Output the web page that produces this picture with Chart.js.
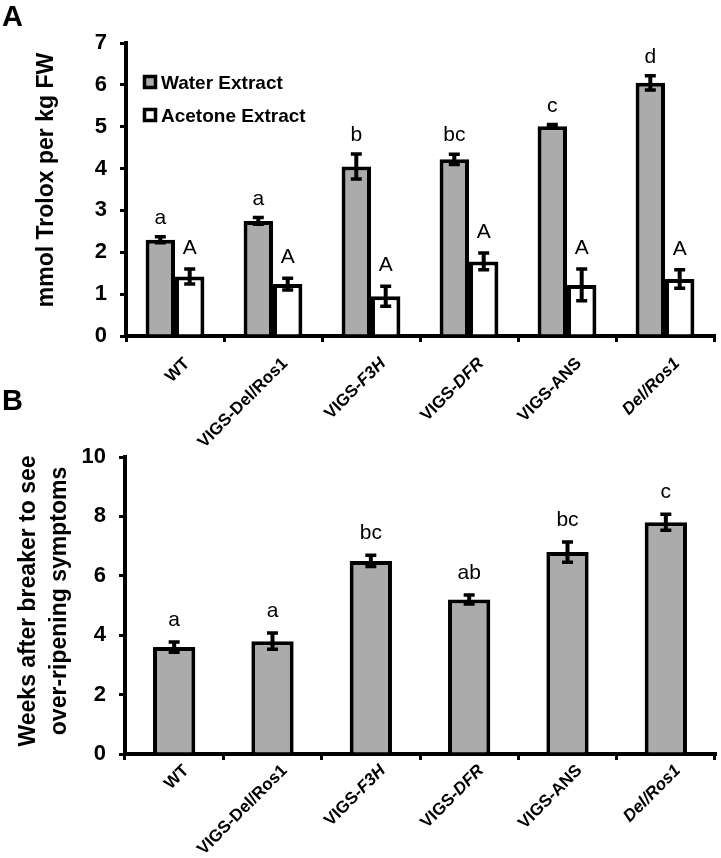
<!DOCTYPE html>
<html><head><meta charset="utf-8">
<script src="https://cdn.jsdelivr.net/npm/chart.js@4.4.0/dist/chart.umd.min.js"></script>
<style>
html,body{margin:0;padding:0;background:#fff;}
#wrap{position:relative;width:721px;height:858px;overflow:hidden;font-family:'Liberation Sans',Arial,sans-serif;background:#fff;}
.panel{position:absolute;left:2px;font-weight:bold;font-size:29px;line-height:29px;color:#000;}
canvas{position:absolute;left:0;}
#cA{top:0;}
#cB{top:420px;}
</style></head><body>
<div id="wrap">
<canvas id="cA" width="721" height="450"></canvas>
<canvas id="cB" width="721" height="438"></canvas>
<div class="panel" style="top:2px">A</div>
<div class="panel" style="top:386px">B</div>
</div>
<script>
// ---- data ----
const categories = ['WT', 'VIGS-Del/Ros1', 'VIGS-F3H', 'VIGS-DFR', 'VIGS-ANS', 'Del/Ros1'];
const italicPart = ['', '', 'F3H', 'DFR', '', 'Del/Ros1'];

const seriesNamesA = ['Water Extract', 'Acetone Extract'];
const waterMean = [2.30, 2.75, 4.05, 4.22, 5.01, 6.05];
const waterErr  = [0.07, 0.08, 0.30, 0.12, 0.04, 0.17];
const waterLetters = ['a', 'a', 'b', 'bc', 'c', 'd'];
const acetoneMean = [1.42, 1.24, 0.95, 1.78, 1.22, 1.36];
const acetoneErr  = [0.18, 0.14, 0.24, 0.20, 0.38, 0.22];
const acetoneLetters = ['A', 'A', 'A', 'A', 'A', 'A'];
const yTicksA = [0, 1, 2, 3, 4, 5, 6, 7];
const yTitleA = 'mmol Trolox per kg FW';

const weeksMean = [3.6, 3.8, 6.5, 5.2, 6.8, 7.8];
const weeksErr  = [0.17, 0.27, 0.19, 0.15, 0.34, 0.27];
const weeksLetters = ['a', 'a', 'bc', 'ab', 'bc', 'c'];
const yTicksB = [0, 2, 4, 6, 8, 10];
const yTitleB = ['Weeks after breaker to see', 'over-ripening symptoms'];

// ---- styling ----
const FAM = "'Liberation Sans', Arial, sans-serif";
Chart.defaults.font.family = FAM;
Chart.defaults.color = '#000';
const GRAY = '#ababab';

const annotate = {
  id: 'annotate',
  afterDatasetsDraw(chart, args, opts) {
    const ctx = chart.ctx, y = chart.scales.y;
    chart.data.datasets.forEach((ds, di) => {
      const meta = chart.getDatasetMeta(di);
      meta.data.forEach((bar, i) => {
        const v = ds.data[i], e = ds.errors[i];
        const yt = y.getPixelForValue(v + e), yb = y.getPixelForValue(v - e);
        ctx.save();
        ctx.strokeStyle = '#000'; ctx.lineWidth = 4;
        ctx.beginPath();
        ctx.moveTo(bar.x, yt); ctx.lineTo(bar.x, yb);
        ctx.stroke();
        ctx.lineWidth = 3.5;
        ctx.beginPath();
        ctx.moveTo(bar.x - 5.5, yt); ctx.lineTo(bar.x + 5.5, yt);
        ctx.moveTo(bar.x - 5.5, yb); ctx.lineTo(bar.x + 5.5, yb);
        ctx.stroke();
        ctx.fillStyle = '#000';
        ctx.font = '21px ' + FAM;
        ctx.textAlign = 'center'; ctx.textBaseline = 'alphabetic';
        ctx.fillText(ds.letters[i], bar.x, yt - opts.gaps[di]);
        ctx.restore();
      });
    });
  },
  afterDraw(chart, args, opts) {
    const ctx = chart.ctx, x = chart.scales.x, ca = chart.chartArea;
    // category labels
    ctx.save();
    categories.forEach((lab, i) => {
      const it = italicPart[i];
      const norm = it ? lab.slice(0, lab.length - it.length) : lab;
      const px = x.getPixelForValue(i) + opts.labelDx;
      const py = ca.bottom + opts.labelDy;
      ctx.save();
      ctx.translate(px, py);
      ctx.rotate(-Math.PI / 4);
      ctx.textBaseline = 'middle'; ctx.textAlign = 'left'; ctx.fillStyle = '#000';
      const fN = 'bold 17px ' + FAM, fI = 'italic bold 17px ' + FAM;
      ctx.font = fN; const wN = ctx.measureText(norm).width;
      ctx.font = fI; const wI = it ? ctx.measureText(it).width : 0;
      let cx = -(wN + wI);
      ctx.font = fN; ctx.fillText(norm, cx, 0);
      if (it) { ctx.font = fI; ctx.fillText(it, cx + wN, 0); }
      ctx.restore();
    });
    // y title
    ctx.save();
    ctx.font = 'bold 23px ' + FAM; ctx.fillStyle = '#000';
    ctx.textAlign = 'center'; ctx.textBaseline = 'middle';
    opts.title.forEach((t, k) => {
      ctx.save();
      ctx.translate(opts.titleX + k * opts.titleStep, opts.titleY);
      ctx.rotate(-Math.PI / 2);
      ctx.fillText(t, 0, 0);
      ctx.restore();
    });
    ctx.restore();
    // legend
    if (opts.legend) {
      chart.data.datasets.forEach((ds, di) => {
        const cy = ca.top + 39 + di * 33;
        const lx = ca.left + 17;
        ctx.fillStyle = ds.backgroundColor;
        ctx.fillRect(lx + 1.5, cy - 5.5, 11, 11);
        ctx.strokeStyle = '#000'; ctx.lineWidth = 3.5;
        ctx.strokeRect(lx + 1.5, cy - 5.5, 11, 11);
        ctx.fillStyle = '#000';
        ctx.font = 'bold 19px ' + FAM;
        ctx.textAlign = 'left'; ctx.textBaseline = 'alphabetic';
        ctx.fillText(ds.label, lx + 18, cy + 6.5);
      });
    }
    ctx.restore();
  }
};

function makeScales(ticks, yWidth, xHeight) {
  return {
    x: {
      offset: true,
      grid: { display: true, drawOnChartArea: false, drawTicks: true, tickLength: 6, color: '#000', lineWidth: 3, offset: true },
      border: { display: true, color: '#000', width: 4 },
      ticks: { display: false },
      afterFit(s) { s.height = xHeight; }
    },
    y: {
      min: ticks[0], max: ticks[ticks.length - 1],
      afterBuildTicks(s) { s.ticks = ticks.map(v => ({ value: v })); },
      grid: { display: true, drawOnChartArea: false, drawTicks: true, tickLength: 6, color: '#000', lineWidth: 3 },
      border: { display: true, color: '#000', width: 4 },
      ticks: { font: { size: 22, weight: 'bold' }, color: '#000', padding: 13 },
      afterFit(s) { s.width = yWidth; }
    }
  };
}

new Chart(document.getElementById('cA'), {
  type: 'bar',
  data: {
    labels: categories,
    datasets: [
      { label: seriesNamesA[0], data: waterMean, errors: waterErr, letters: waterLetters,
        backgroundColor: GRAY, borderColor: '#000', borderWidth: 4 },
      { label: seriesNamesA[1], data: acetoneMean, errors: acetoneErr, letters: acetoneLetters,
        backgroundColor: '#ffffff', borderColor: '#000', borderWidth: 4 }
    ]
  },
  options: {
    responsive: false, animation: false,
    layout: { padding: { top: 43, right: 7, left: 0, bottom: 0 } },
    datasets: { bar: { categoryPercentage: 0.6, barPercentage: 1.0 } },
    scales: makeScales(yTicksA, 126, 114),
    plugins: {
      legend: { display: false }, tooltip: { enabled: false },
      annotate: { gaps: [13, 15], labelDx: 12, labelDy: 25, title: [yTitleA], titleX: 47, titleStep: 0, titleY: 180, legend: true }
    }
  },
  plugins: [annotate]
});

new Chart(document.getElementById('cB'), {
  type: 'bar',
  data: {
    labels: categories,
    datasets: [
      { label: 'Weeks', data: weeksMean, errors: weeksErr, letters: weeksLetters,
        backgroundColor: GRAY, borderColor: '#000', borderWidth: 4 }
    ]
  },
  options: {
    responsive: false, animation: false,
    layout: { padding: { top: 37, right: 6, left: 0, bottom: 0 } },
    datasets: { bar: { categoryPercentage: 0.43, barPercentage: 1.0 } },
    scales: makeScales(yTicksB, 125, 104),
    plugins: {
      legend: { display: false }, tooltip: { enabled: false },
      annotate: { gaps: [16], labelDx: 12, labelDy: 14, title: yTitleB, titleX: 29, titleStep: 31, titleY: 181, legend: false }
    }
  },
  plugins: [annotate]
});
</script>
</body></html>
